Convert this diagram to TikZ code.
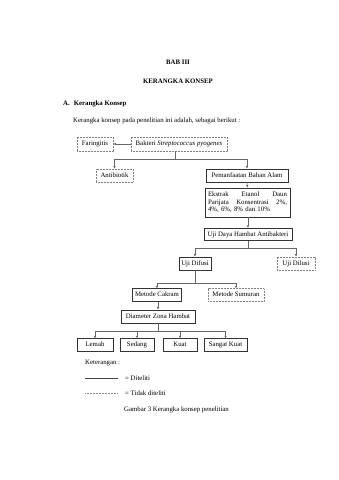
\documentclass[tikz,border=0pt]{standalone}
\usepackage{fontspec}
\setmainfont{Liberation Serif}
\usetikzlibrary{arrows.meta}
\begin{document}
\begin{tikzpicture}[x=1pt,y=-1pt,
  every node/.style={font=\fontsize{6.8}{7.6}\selectfont, inner sep=0pt},
  boxbase/.style={line width=0.7pt, minimum height=13pt, align=center, text height=4.8pt, text depth=1.4pt},
  solidbox/.style={boxbase, draw=black!80},
  dotbox/.style={boxbase, draw=black!50, dash pattern=on 0.6pt off 0.9pt},
  conn/.style={draw=black!60, line width=0.5pt},
  arr/.style={conn, -{Latex[length=2.6pt,width=2.4pt]}},
  txt/.style={anchor=west}]
\useasboundingbox (0,0) rectangle (339,480);

% headings
\node[font=\bfseries\fontsize{6.8}{7.6}\selectfont] (bab) at (178,62) {BAB III};
\node[font=\bfseries\fontsize{6.8}{7.6}\selectfont] (judul) at (178,81) {KERANGKA KONSEP};
\node[txt, font=\bfseries\fontsize{6.8}{7.6}\selectfont] (sub) at (63,104) {A.\hspace{4pt}Kerangka Konsep};
\node[txt] (intro) at (73,121) {Kerangka konsep pada penelitian ini adalah, sebagai berikut :};

% boxes
\node[dotbox, minimum width=36pt, minimum height=14pt] (far) at (95,144) {Faringitis};
\node[dotbox, minimum width=96pt, minimum height=14pt] (bak) at (179,144) {Bakteri \textit{Streptococcus pyogenes}};
\node[dotbox, minimum width=37pt] (anti) at (114.5,175.5) {Antibiotik};
\node[solidbox, minimum width=82pt] (pem) at (247,175.5) {Pemanfaatan Bahan Alam};
\node[draw=black!80, line width=0.7pt, minimum width=85pt, minimum height=29pt, text width=79pt, align=left] (eks) at (247.5,202.5)
  {\makebox[79pt][l]{Ekstrak\hfill Etanol\hfill Daun}\\\makebox[79pt][l]{Parijata\hfill Konsentrasi\hfill 2\%,}\\4\%, 6\%, 8\% dan 10\%};
\node[solidbox, minimum width=88pt, minimum height=12.5pt] (uji) at (248,234.5) {Uji Daya Hambat Antibakteri};
\node[solidbox, minimum width=32pt] (dif) at (195,263.5) {Uji Difusi};
\node[dotbox, minimum width=38pt] (dil) at (296,263.5) {Uji Dilusi};
\node[solidbox, minimum width=49pt, minimum height=12.5pt] (cak) at (157,295) {Metode Cakram};
\node[dotbox, minimum width=56pt, minimum height=12.5pt] (sum) at (236,295) {Metode Sumuran};
\node[solidbox, minimum width=74pt] (dia) at (158,316.5) {Diameter Zona Hambat};
\node[solidbox, minimum width=36pt, minimum height=12.5pt] (lem) at (95,345) {Lemah};
\node[solidbox, minimum width=34pt, minimum height=12.5pt] (sed) at (137,345) {Sedang};
\node[solidbox, minimum width=34pt, minimum height=12.5pt] (kua) at (180,345) {Kuat};
\node[solidbox, minimum width=43pt, minimum height=12.5pt] (san) at (225.5,345) {Sangat Kuat};

% junctions
\coordinate (j1) at (175,159);
\coordinate (j2) at (248,248);
\coordinate (j3) at (195,283);
\coordinate (j4) at (158,331);

% connectors
\draw[arr] (bak.west) -- (far.east);
\draw[conn] (j1 |- bak.south) -- (j1);
\draw[arr] (j1) -| (anti.north);
\draw[arr] (j1) -| (pem.north);
\draw[arr] (pem.south) -- (eks.north);
\draw[arr] (eks.south -| uji.north) -- (uji.north);
\draw[conn] (uji.south) -- (j2);
\draw[arr] (j2) -| (dif.north);
\draw[arr] (j2) -| (dil.north);
\draw[conn] (dif.south) -- (j3);
\draw[arr] (j3) -| (cak.north);
\draw[arr] (j3) -| (sum.north);
\draw[arr] (cak.south -| dia.north) -- (dia.north);
\draw[conn] (dia.south) -- (j4);
\draw[arr] (j4) -| (lem.north);
\draw[arr] (j4) -| (sed.north);
\draw[arr] (j4) -| (kua.north);
\draw[arr] (j4) -| (san.north);

% legend
\node[txt] (ket) at (85,363) {Keterangan :};
\coordinate (l1a) at (85,378);
\coordinate (l1b) at (118,378);
\draw[draw=black!75, line width=0.5pt] (l1a) -- (l1b);
\node[txt] (dit) at (125,378) {= Diteliti};
\coordinate (l2a) at (85,393);
\coordinate (l2b) at (118,393);
\draw[draw=black!45, dash pattern=on 0.6pt off 0.9pt, line width=0.5pt] (l2a) -- (l2b);
\node[txt] (tdit) at (125,393) {= Tidak diteliti};
\node[txt] (cap) at (124,410) {Gambar 3 Kerangka konsep penelitian};
\end{tikzpicture}
\end{document}
